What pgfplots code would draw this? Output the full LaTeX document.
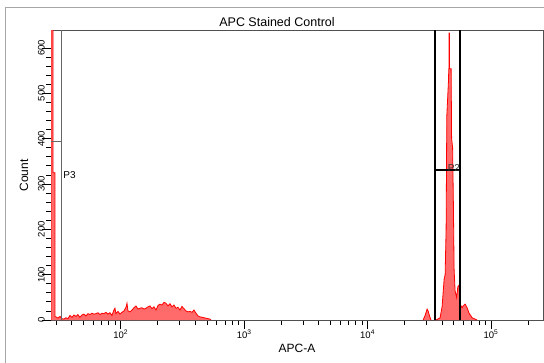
\documentclass[border=0pt]{standalone}
\usepackage{pgfplots}
\pgfplotsset{compat=1.18}
\usepackage{fontspec}
\setmainfont{Liberation Sans}
\definecolor{fillred}{RGB}{255,106,106}
\definecolor{framegray}{RGB}{80,80,80}
\begin{document}
\begin{tikzpicture}
\path[use as bounding box] (0pt,0pt) rectangle (544pt,362pt);
\draw[gray!70, line width=1.5pt] (5.5pt,-5pt) -- (5.5pt,354.5pt) -- (550pt,354.5pt);
\node[font=\fontsize{12.5}{14}\selectfont] at (277pt,339.5pt) {APC Stained Control};
\begin{axis}[
  at={(51pt,42pt)}, anchor=south west, scale only axis,
  width=492pt, height=289pt,
  xmode=log, xmin=27.24, xmax=263700, ymin=0, ymax=637.5,
  axis line style={framegray, line width=1pt},
  tick align=outside, major tick length=9pt, minor tick length=5pt,
  tick style={black, line width=0.8pt},
  xtick pos=bottom, ytick pos=left,
  xtick={100,1000,10000,100000},
  xticklabels={10\textsuperscript{2},10\textsuperscript{3},10\textsuperscript{4},10\textsuperscript{5}},
  minor xtick={30,40,50,60,70,80,90,200,300,400,500,600,700,800,900,2000,3000,4000,5000,6000,7000,8000,9000,20000,30000,40000,50000,60000,70000,80000,90000,200000},
  ytick={0,100,200,300,400,500,600}, minor y tick num=4,
  /pgf/number format/assume math mode=true,
  xticklabel style={font=\fontsize{9.5}{10}\selectfont, inner sep=1pt},
  yticklabel style={font=\fontsize{9.5}{10}\selectfont, rotate=90, anchor=south, inner sep=1pt, yshift=-4pt},
  xlabel={APC-A}, ylabel={Count},
  every axis x label/.style={at={(axis description cs:0.5,0)}, anchor=center, yshift=-28pt, font=\fontsize{12}{14}\selectfont},
  every axis y label/.style={at={(axis description cs:-0.055,0.5)}, anchor=center, rotate=90, font=\fontsize{12}{14}\selectfont},
]
% left population
\addplot[draw=red, fill=fillred, line width=0.8pt] coordinates {
(27.24,0) (27.24,2000) (28.28,2000) (28.28,325) (29.35,325) (29.35,7) (29.9,7) (31.0,4) (32.2,8) (33.4,3) (34.7,2) (36.0,5) (37.4,3) (38.8,10) (40.3,6) (41.8,11) (43.4,8) (45.0,12) (46.7,6) (48.5,11) (50.4,13) (52.3,9) (54.3,14) (56.3,12) (58.5,15) (60.7,13) (63.0,14) (65.4,16) (67.9,12) (70.5,15) (73.1,14) (75.9,17) (78.8,13) (81.8,16) (84.9,10) (88.1,22) (89.8,26) (91.5,14) (95.0,19) (98.6,13) (102.4,17) (106.3,20) (110.3,28) (112.4,37) (114.5,20) (118.9,18) (123.4,22) (128.1,27) (132.9,31) (138.0,24) (143.2,26) (148.7,27) (154.3,24) (160.2,26) (166.3,29) (172.6,31) (179.2,25) (186.0,29) (193.0,22) (200.4,32) (208.0,35) (215.9,33) (224.1,39) (232.6,37) (241.5,31) (250.6,36) (260.2,29) (270.1,33) (280.3,26) (291.0,28) (302.0,22) (313.5,30) (325.4,25) (337.8,20) (350.6,18) (364.0,19) (377.8,17) (392.2,22) (407.1,15) (422.5,9) (438.6,7) (455.3,6) (472.6,5) (490.5,4) (509.2,3) (528.5,2) (538.5,0)
};
% small bump
\addplot[draw=red, fill=fillred, line width=0.8pt] coordinates {
(28170,0) (29240,10) (30350,24) (30920,20) (32100,5) (32700,0)
};
% main peak
\addplot[draw=red, fill=fillred, line width=0.8pt] coordinates {
(35900,0) (38690,5) (40160,30) (40920,60) (41690,90) (42480,100) (43270,200) (43840,450) (45170,525) (45500,554) (45760,554) (45760,633) (46020,633) (46020,554) (47500,554) (47950,400) (48850,380) (49590,250) (50230,110) (51170,64) (52630,50) (53830,73) (55130,77) (56170,35) (58310,27) (59410,31) (61670,35) (64020,27) (66450,15) (70280,5) (72950,3) (77170,0)
};
% P3 gate
\addplot[gray!80!black, line width=1pt] coordinates {(33.3,0) (33.3,700)};
\addplot[gray!80!black, line width=1pt] coordinates {(20,392.7) (33.3,392.7)};
\node[anchor=west, font=\fontsize{10}{12}\selectfont, inner sep=0pt] at (axis cs:34.2,320) {P3};
% P2 gate
\addplot[black, line width=1.8pt] coordinates {(35370,0) (35370,700)};
\addplot[black, line width=1.8pt] coordinates {(55680,0) (55680,700)};
\addplot[black, line width=1.8pt] coordinates {(35370,331) (55680,331)};
\node[anchor=west, font=\fontsize{10}{12}\selectfont, inner sep=0pt, text=black!80] at (axis cs:44500,336) {P2};
\end{axis}
\end{tikzpicture}
\end{document}
